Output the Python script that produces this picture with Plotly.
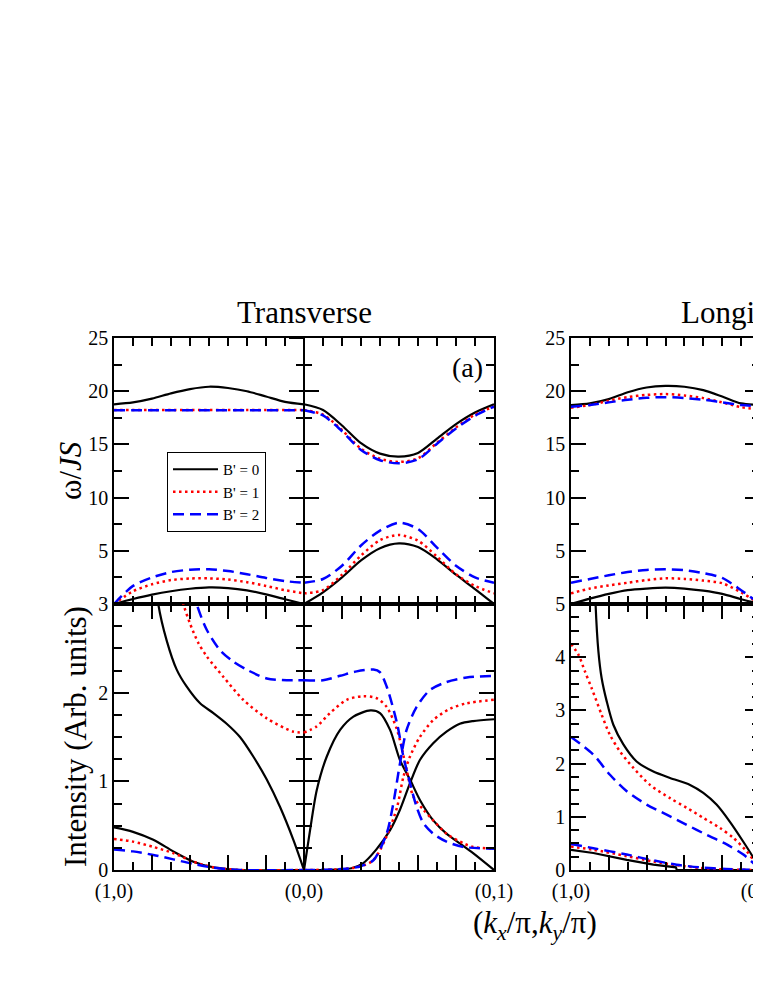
import plotly.graph_objects as go

# -----------------------------------------------------------------------------
#  Spin-wave dispersion (omega/JS) and intensity along (1,0)-(0,0)-(0,1)
#  path coordinate t: 0 = (1,0), 1 = (0,0), 2 = (0,1)
# -----------------------------------------------------------------------------

FONT = "Liberation Serif, Times New Roman, serif"

SERIES_NAMES = ["B' = 0", "B' = 1", "B' = 2"]
SERIES_COLORS = ["black", "red", "blue"]
SERIES_DASHES = ["solid", "2.5px,3.5px", "11px,6px"]
SERIES_WIDTHS = [2.2, 2.5, 2.5]

T_HALF1 = [0.0, 0.1, 0.2, 0.3, 0.4, 0.5, 0.6, 0.7, 0.8, 0.9, 1.0]
T_HALF2 = [1.0, 1.1, 1.2, 1.3, 1.4, 1.5, 1.6, 1.7, 1.8, 1.9, 2.0]

X_TICKS = [0.0, 0.2, 0.4, 0.6, 0.8, 1.0, 1.2, 1.4, 1.6, 1.8, 2.0]
X_TICK_TEXT = ["(1,0)", "", "", "", "", "(0,0)", "", "", "", "", "(0,1)"]

# --- Transverse, omega/JS --------------------------------------------------
TR_UPPER_1 = [
    [18.77, 18.95, 19.3, 19.8, 20.2, 20.42, 20.3, 20.0, 19.5, 19.0, 18.77],
    [18.23, 18.23, 18.23, 18.23, 18.23, 18.23, 18.23, 18.23, 18.23, 18.23, 18.23],
    [18.2, 18.2, 18.2, 18.2, 18.2, 18.2, 18.2, 18.2, 18.2, 18.2, 18.2],
]
TR_UPPER_2 = [
    [18.77, 18.23, 16.78, 15.11, 14.13, 13.85, 14.2, 15.54, 16.91, 18.0, 18.77],
    [18.23, 17.8, 16.35, 14.6, 13.65, 13.35, 13.7, 15.15, 16.6, 17.8, 18.55],
    [18.2, 17.72, 16.24, 14.48, 13.51, 13.22, 13.6, 15.07, 16.5, 17.69, 18.55],
]
TR_LOWER_1 = [
    [0.0, 0.47, 0.88, 1.2, 1.43, 1.56, 1.5, 1.28, 0.9, 0.45, 0.0],
    [0.0, 1.2, 1.85, 2.25, 2.4, 2.41, 2.3, 2.05, 1.7, 1.3, 1.0],
    [0.0, 1.7, 2.5, 3.0, 3.22, 3.26, 3.1, 2.8, 2.45, 2.15, 2.0],
]
TR_LOWER_2 = [
    [0.0, 1.1, 2.5, 4.1, 5.25, 5.7, 5.35, 4.2, 2.75, 1.4, 0.0],
    [1.0, 1.3, 2.75, 4.55, 6.0, 6.48, 5.95, 4.45, 2.8, 1.7, 1.0],
    [2.0, 2.35, 3.6, 5.5, 6.9, 7.64, 7.05, 5.3, 3.6, 2.5, 2.0],
]

# --- Transverse, intensity -------------------------------------------------
TI_UPPER_1_T = [
    [0.215, 0.233, 0.277, 0.33, 0.382, 0.453, 0.523, 0.593, 0.663, 0.733, 0.804, 0.874, 0.944, 1.0],
    [0.35, 0.365, 0.40, 0.444, 0.488, 0.575, 0.68, 0.804, 0.944, 1.0],
    [0.42, 0.435, 0.488, 0.558, 0.628, 0.698, 0.804, 0.909, 1.0],
]
TI_UPPER_1 = [
    [3.4, 3.0, 2.59, 2.26, 2.07, 1.88, 1.77, 1.65, 1.50, 1.28, 1.02, 0.71, 0.34, 0.0],
    [3.15, 3.0, 2.78, 2.56, 2.41, 2.18, 1.92, 1.71, 1.56, 1.55],
    [3.15, 3.0, 2.71, 2.48, 2.35, 2.26, 2.16, 2.14, 2.14],
]
TI_UPPER_2_T = [
    [1.0, 1.032, 1.067, 1.12, 1.19, 1.26, 1.35, 1.40, 1.453, 1.505, 1.558, 1.61, 1.68, 1.75, 1.82, 1.89, 2.0],
    [1.0, 1.067, 1.137, 1.225, 1.31, 1.38, 1.435, 1.49, 1.54, 1.575, 1.628, 1.68, 1.75, 1.84, 1.89, 2.0],
    [1.0, 1.10, 1.19, 1.277, 1.365, 1.40, 1.435, 1.49, 1.523, 1.558, 1.593, 1.628, 1.68, 1.75, 1.84, 2.0],
]
TI_UPPER_2 = [
    [0.0, 0.45, 0.90, 1.28, 1.58, 1.73, 1.80, 1.77, 1.58, 1.24, 1.02, 0.79, 0.56, 0.41, 0.30, 0.19, 0.0],
    [1.55, 1.62, 1.77, 1.92, 1.96, 1.94, 1.84, 1.58, 1.13, 0.83, 0.68, 0.56, 0.41, 0.30, 0.26, 0.24],
    [2.14, 2.14, 2.19, 2.24, 2.26, 2.23, 2.07, 1.65, 1.28, 0.98, 0.71, 0.53, 0.41, 0.32, 0.26, 0.24],
]
TI_LOWER_1_T = [0.0, 0.1, 0.207, 0.312, 0.418, 0.523, 0.663, 1.0]
TI_LOWER_1 = [
    [0.48, 0.43, 0.34, 0.21, 0.094, 0.03, 0.0, 0.0],
    [0.35, 0.32, 0.26, 0.19, 0.094, 0.03, 0.0, 0.0],
    [0.23, 0.21, 0.17, 0.12, 0.068, 0.026, 0.0, 0.0],
]
TI_LOWER_2_T = [
    [1.0, 1.25, 1.31, 1.38, 1.453, 1.505, 1.558, 1.61, 1.68, 1.75, 1.82, 1.89, 2.0],
    [1.0, 1.2, 1.295, 1.365, 1.435, 1.49, 1.523, 1.558, 1.61, 1.68, 1.77, 1.856, 2.0],
    [1.0, 1.2, 1.295, 1.365, 1.435, 1.47, 1.505, 1.54, 1.593, 1.663, 1.75, 1.856, 2.0],
]
TI_LOWER_2 = [
    [0.0, 0.02, 0.075, 0.23, 0.45, 0.68, 0.98, 1.24, 1.43, 1.56, 1.65, 1.68, 1.70],
    [0.0, 0.01, 0.04, 0.11, 0.38, 0.71, 1.05, 1.28, 1.50, 1.69, 1.82, 1.88, 1.92],
    [0.0, 0.01, 0.04, 0.11, 0.41, 0.75, 1.20, 1.58, 1.84, 2.03, 2.12, 2.17, 2.19],
]

# --- Longitudinal, omega/JS (only (1,0)->(0,0) visible) --------------------
LO_UPPER = [
    [18.7, 18.85, 19.25, 19.9, 20.35, 20.5, 20.42, 20.1, 19.5, 18.85, 18.7],
    [18.45, 18.7, 19.1, 19.45, 19.65, 19.73, 19.6, 19.35, 18.95, 18.5, 18.3],
    [18.55, 18.7, 18.95, 19.2, 19.38, 19.44, 19.36, 19.2, 18.95, 18.7, 18.6],
]
LO_LOWER = [
    [0.0, 0.5, 0.95, 1.3, 1.45, 1.53, 1.45, 1.25, 0.95, 0.45, 0.0],
    [1.0, 1.45, 1.75, 2.0, 2.25, 2.41, 2.36, 2.2, 1.95, 1.1, 0.0],
    [2.0, 2.35, 2.7, 3.0, 3.2, 3.26, 3.18, 2.9, 2.45, 1.3, 0.0],
]

# --- Longitudinal, intensity ----------------------------------------------
LI_UPPER_T = [
    [0.128, 0.13, 0.145, 0.162, 0.189, 0.224, 0.277, 0.347, 0.436, 0.524, 0.63, 0.70, 0.77, 0.84, 0.91, 0.965, 1.0],
    [0.0, 0.039, 0.074, 0.109, 0.162, 0.206, 0.259, 0.33, 0.418, 0.524, 0.612, 0.70, 0.788, 0.86, 0.93, 0.982, 1.0],
    [0.0, 0.118, 0.206, 0.295, 0.40, 0.506, 0.612, 0.718, 0.824, 0.912, 0.982, 1.0],
]
LI_UPPER = [
    [5.3, 5.0, 4.11, 3.61, 3.17, 2.73, 2.36, 2.04, 1.85, 1.73, 1.60, 1.45, 1.23, 0.91, 0.54, 0.23, 0.0],
    [4.25, 4.05, 3.73, 3.42, 2.92, 2.54, 2.23, 1.92, 1.60, 1.35, 1.17, 0.98, 0.79, 0.60, 0.35, 0.10, 0.0],
    [2.5, 2.17, 1.79, 1.48, 1.23, 1.04, 0.85, 0.66, 0.48, 0.29, 0.07, 0.0],
]
LI_LOWER_T = [
    [0.0, 0.118, 0.295, 0.436, 0.555, 0.56, 1.0],
    [0.0, 0.118, 0.295, 0.436, 0.559, 0.68, 0.82, 1.0],
    [0.0, 0.118, 0.295, 0.436, 0.559, 0.68, 0.82, 1.0],
]
LI_LOWER = [
    [0.38, 0.32, 0.19, 0.10, 0.05, 0.0, 0.0],
    [0.44, 0.38, 0.26, 0.16, 0.09, 0.04, 0.01, 0.0],
    [0.49, 0.41, 0.29, 0.18, 0.10, 0.05, 0.02, 0.0],
]


# --------------------------------------------------------------------------- #
#  Layout geometry, in pixels of the 761 x 985 page.
#  The page body keeps an 8 px margin, so the figure is made 16 px shorter
#  (no scrollbar) and 8 px narrower, and page pixels are shifted by OFF.
# --------------------------------------------------------------------------- #
OFF = 8
W, H = 761 - OFF, 985 - 2 * OFF


def px(x):
    return (x - OFF) / W


def py(y):
    return (H - (y - OFF)) / H


LEFT_X = [px(114), px(494)]
RIGHT_X = [px(571), px(760)]
TOP_Y = [py(604), py(338)]
BOT_Y = [py(870), py(604)]
MID_X = px(304)

fig = go.Figure()


def add_curve(x, y, i, xa, ya, shape="spline", legend=False):
    fig.add_trace(go.Scatter(
        x=x, y=y, mode="lines", name=SERIES_NAMES[i],
        xaxis=xa, yaxis=ya, showlegend=legend,
        line=dict(color=SERIES_COLORS[i], dash=SERIES_DASHES[i],
                  width=SERIES_WIDTHS[i], shape=shape, smoothing=0.8),
        hoverinfo="skip",
    ))


for i in range(3):
    # transverse dispersion
    add_curve(T_HALF1, TR_UPPER_1[i], i, "x", "y", legend=True)
    add_curve(T_HALF2, TR_UPPER_2[i], i, "x", "y")
    add_curve(T_HALF1, TR_LOWER_1[i], i, "x", "y")
    add_curve(T_HALF2, TR_LOWER_2[i], i, "x", "y")
    # transverse intensity
    add_curve(TI_UPPER_1_T[i], TI_UPPER_1[i], i, "x2", "y2")
    add_curve(TI_UPPER_2_T[i], TI_UPPER_2[i], i, "x2", "y2")
    add_curve(TI_LOWER_1_T, TI_LOWER_1[i], i, "x2", "y2")
    add_curve(TI_LOWER_2_T[i], TI_LOWER_2[i], i, "x2", "y2")
    # longitudinal dispersion
    add_curve(T_HALF1, LO_UPPER[i], i, "x3", "y3")
    add_curve(T_HALF1, LO_LOWER[i], i, "x3", "y3")
    # longitudinal intensity
    add_curve(LI_UPPER_T[i], LI_UPPER[i], i, "x4", "y4")
    add_curve(LI_LOWER_T[i], LI_LOWER[i], i, "x4", "y4",
              shape="linear" if i == 0 else "spline")

# empty traces so the (0,0) divider axes get drawn
for ya in ["y5", "y6", "y7", "y8"]:
    fig.add_trace(go.Scatter(x=[None], y=[None], xaxis="x", yaxis=ya,
                             showlegend=False, hoverinfo="skip"))

tick_font = dict(family=FONT, size=20, color="black")
frame = dict(showline=True, linecolor="black", linewidth=1.5, mirror="ticks",
             ticks="inside", tickcolor="black", tickwidth=1.5, ticklen=15,
             showgrid=False, zeroline=False, tickfont=tick_font, fixedrange=True,
             automargin=False, ticklabeloverflow="allow")


def x_axis(domain, rng, anchor, labels):
    return dict(frame, domain=domain, range=rng, anchor=anchor,
                tickmode="array", tickvals=X_TICKS, ticktext=X_TICK_TEXT,
                showticklabels=labels, ticklabelstandoff=2,
                minor=dict(dtick=0.1, tick0=0, ticks="inside", ticklen=8,
                           tickcolor="black", tickwidth=1.5))


def y_axis(domain, rng, anchor, vals, minor):
    return dict(frame, domain=domain, range=rng, anchor=anchor,
                tickmode="array", tickvals=vals,
                minor=dict(dtick=minor, tick0=0, ticks="inside", ticklen=8,
                           tickcolor="black", tickwidth=1.5))


def mid_axis(over, rng, vals, minor, direction):
    return dict(overlaying=over, anchor="free", position=MID_X, side="left",
                range=rng, showline=True, linecolor="black", linewidth=1.5,
                ticks=direction, ticklen=14, tickwidth=1.5, tickcolor="black",
                tickmode="array", tickvals=vals, showticklabels=False,
                showgrid=False, zeroline=False, fixedrange=True,
                automargin=False,
                minor=dict(dtick=minor, tick0=0, ticks=direction, ticklen=7,
                           tickcolor="black", tickwidth=1.5))


OMEGA_TICKS = [5, 10, 15, 20, 25]

fig.update_layout(
    width=W, height=H,
    margin=dict(l=0, r=0, t=0, b=0, pad=0, autoexpand=False),
    paper_bgcolor="white", plot_bgcolor="rgba(0,0,0,0)",
    font=dict(family=FONT, color="black"),
    xaxis=x_axis(LEFT_X, [0, 2], "y", False),
    xaxis2=x_axis(LEFT_X, [0, 2], "y2", True),
    xaxis3=x_axis(RIGHT_X, [0, 1], "y3", False),
    xaxis4=x_axis(RIGHT_X, [0, 1], "y4", True),
    yaxis=y_axis(TOP_Y, [0, 25], "x", OMEGA_TICKS, 2.5),
    yaxis2=y_axis(BOT_Y, [0, 3], "x2", [0, 1, 2, 3], 0.25),
    yaxis3=y_axis(TOP_Y, [0, 25], "x3", OMEGA_TICKS, 2.5),
    yaxis4=y_axis(BOT_Y, [0, 5], "x4", [0, 1, 2, 3, 4, 5], 0.25),
    yaxis5=mid_axis("y", [0, 25], OMEGA_TICKS, 2.5, "outside"),
    yaxis6=mid_axis("y", [0, 25], OMEGA_TICKS, 2.5, "inside"),
    yaxis7=mid_axis("y2", [0, 3], [0, 1, 2, 3], 0.25, "outside"),
    yaxis8=mid_axis("y2", [0, 3], [0, 1, 2, 3], 0.25, "inside"),
    legend=dict(x=px(167), y=py(452), xanchor="left", yanchor="top",
                bgcolor="white", bordercolor="black", borderwidth=1,
                font=dict(family=FONT, size=15, color="black"),
                itemwidth=45),
    showlegend=True,
)


def label(text, x, y, size=30, angle=0):
    fig.add_annotation(text=text, x=px(x), y=py(y),
                       xref="paper", yref="paper", showarrow=False,
                       xanchor="center", yanchor="middle", textangle=angle,
                       font=dict(family=FONT, size=size, color="black"))


label("Transverse", 304, 312, size=31)
label("Longitudinal", 761, 312, size=31)
label("(a)", 467, 368, size=28)
label("\u03c9/<i>JS</i>", 70, 471, size=31, angle=-90)
label("Intensity (Arb. units)", 75, 737, size=31, angle=-90)
label("(<i>k</i><sub><i>x</i></sub>/\u03c0,<i>k</i><sub><i>y</i></sub>/\u03c0)", 535, 925, size=31)

fig.write_html("out.html")
